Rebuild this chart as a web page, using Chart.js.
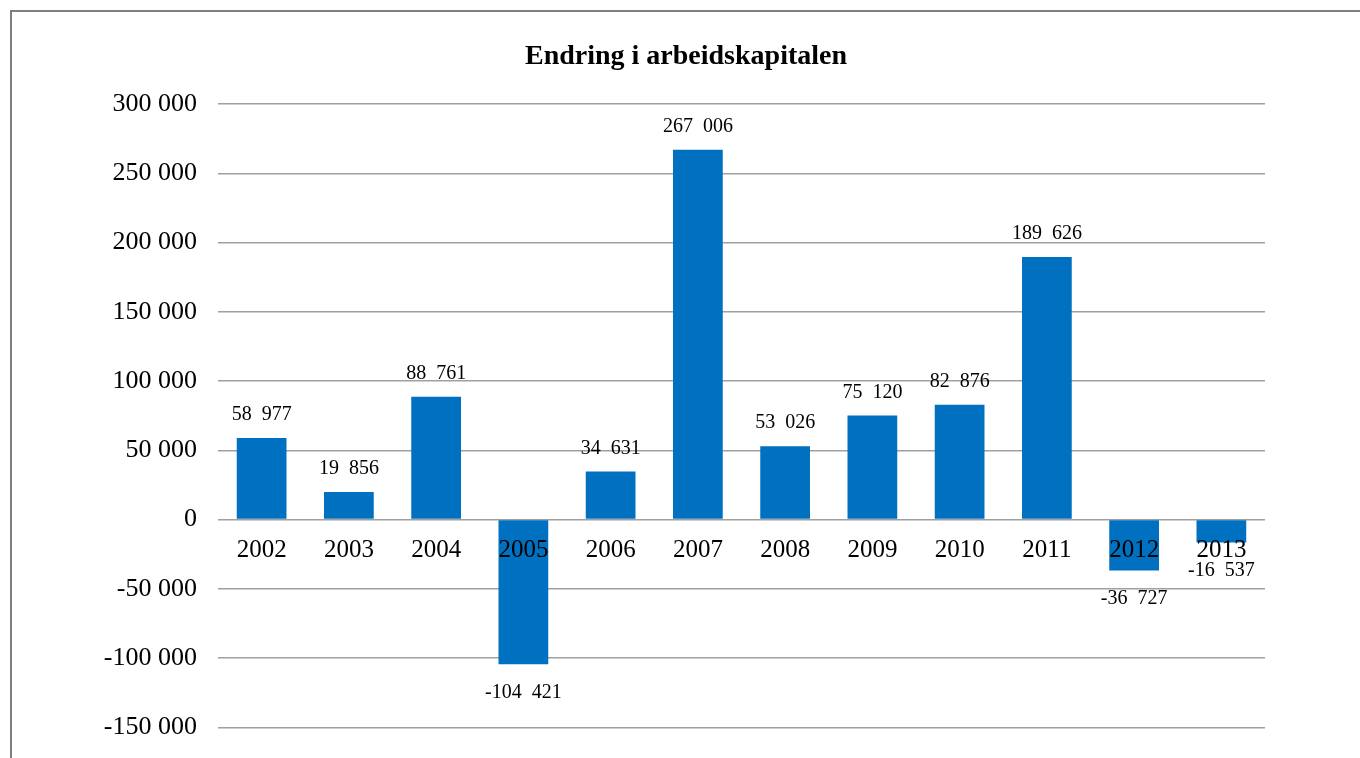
<!DOCTYPE html>
<html>
<head>
<meta charset="utf-8">
<script src="https://cdn.jsdelivr.net/npm/chart.js@4.4.1/dist/chart.umd.min.js"></script>
<style>
  html, body { margin: 0; padding: 0; background: #fff; overflow: hidden; }
  #wrap { position: relative; width: 1360px; height: 758px; overflow: hidden; }
  #frame { position: absolute; left: 10px; top: 10px; width: 1400px; height: 800px; border-left: 2px solid #7f7f7f; border-top: 2px solid #7f7f7f; }
  canvas { position: absolute; left: 0; top: 0; }
</style>
</head>
<body>
<div id="wrap">
  <div id="frame"></div>
  <canvas id="chart" width="1360" height="764"></canvas>
</div>
<script>
const years = ['2002', '2003', '2004', '2005', '2006', '2007', '2008', '2009', '2010', '2011', '2012', '2013'];
const changes = [58977, 19856, 88761, -104421, 34631, 267006, 53026, 75120, 82876, 189626, -36727, -16537];
const chartTitle = 'Endring i arbeidskapitalen';

const serif = '"Liberation Serif", "Times New Roman", serif';

function fmt(v, sep) {
  const s = Math.abs(v).toString().replace(/\B(?=(\d{3})+(?!\d))/g, sep);
  return (v < 0 ? '-' : '') + s;
}

// title, year labels (over the bars, at the zero line) and value labels
const labelsPlugin = {
  id: 'labels',
  afterDatasetsDraw(chart) {
    const ctx = chart.ctx;
    const x = chart.scales.x;
    const zero = chart.scales.y.getPixelForValue(0);
    ctx.save();
    ctx.fillStyle = '#000';
    ctx.textAlign = 'center';
    ctx.textBaseline = 'middle';
    ctx.font = 'bold 28px ' + serif;
    ctx.fillText(chartTitle, 686, 57);

    ctx.font = '25px ' + serif;
    years.forEach((yr, i) => {
      ctx.fillText(yr, x.getPixelForValue(i), zero + 31);
    });

    ctx.font = '20px ' + serif;
    const meta = chart.getDatasetMeta(0);
    meta.data.forEach((bar, i) => {
      const v = changes[i];
      const y = v >= 0 ? bar.y - 23 : bar.y + 28;
      ctx.fillText(fmt(v, '\u2002'), bar.x, y);
    });
    ctx.restore();
  }
};

new Chart(document.getElementById('chart'), {
  type: 'bar',
  data: {
    labels: years,
    datasets: [{
      data: changes,
      backgroundColor: '#0070C0',
      categoryPercentage: 1,
      barPercentage: 0.57
    }]
  },
  options: {
    responsive: false,
    animation: false,
    layout: { padding: { top: 104, right: 95, bottom: 31, left: 0 } },
    plugins: {
      legend: { display: false },
      title: { display: false },
      tooltip: { enabled: false }
    },
    scales: {
      x: {
        position: 'bottom',
        grid: { display: false, drawTicks: false },
        border: { display: false },
        ticks: { display: false }
      },
      y: {
        min: -150000,
        max: 300000,
        afterFit(scale) { scale.width = 218; },
        grid: { color: '#a0a0a0', lineWidth: 1.5, drawTicks: false },
        border: { display: false },
        ticks: {
          stepSize: 50000,
          color: '#000',
          padding: 21,
          font: { family: serif, size: 26 },
          callback: v => fmt(v, ' ')
        }
      }
    }
  },
  plugins: [labelsPlugin]
});
</script>
</body>
</html>
